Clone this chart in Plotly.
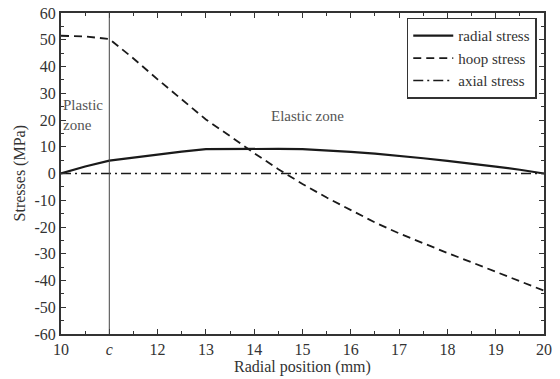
import plotly.graph_objects as go

# Data
r = [10, 10.5, 11, 11.5, 12, 12.5, 13, 13.5, 14, 14.5, 15, 15.5, 16, 16.5, 17, 17.5, 18, 18.5, 19, 19.5, 20]
radial = [0, 2.6, 4.8, 6.0, 7.1, 8.2, 9.1, 9.2, 9.2, 9.2, 9.1, 8.7, 8.1, 7.4, 6.6, 5.7, 4.7, 3.7, 2.6, 1.4, 0]
hoop = [51.5, 51.2, 50.3, 43.0, 35.2, 27.6, 20.2, 14.0, 7.6, 1.6, -3.9, -9.0, -13.8, -18.3, -22.4, -26.2, -29.7, -33.2, -36.8, -40.3, -43.8]
axial = [0] * len(r)
c = 11
xtick_vals = [10, 11, 12, 13, 14, 15, 16, 17, 18, 19, 20]
xtick_text = ["10", "<i>c</i>", "12", "13", "14", "15", "16", "17", "18", "19", "20"]
ytick_vals = [60, 50, 40, 30, 20, 10, 0, -10, -20, -30, -40, -50, -60]
ytick_text = ["60", "50", "40", "30", "20", "10", "0", "-10", "-20", "-30", "-40", "-50", "-60"]

FONT = "Liberation Serif, Times New Roman, serif"
INK = "#333333"

fig = go.Figure()
fig.add_trace(go.Scatter(x=r, y=radial, mode="lines", name="radial stress",
                         line=dict(color="#1a1a1a", width=2.2, dash="solid")))
fig.add_trace(go.Scatter(x=r, y=hoop, mode="lines", name="hoop stress",
                         line=dict(color="#1a1a1a", width=1.8, dash="8px,5px")))
fig.add_trace(go.Scatter(x=r, y=axial, mode="lines", name="axial stress",
                         line=dict(color="#1a1a1a", width=1.6, dash="10px,4px,2px,4px")))

fig.add_shape(type="line", xref="x", yref="paper", x0=c, x1=c, y0=0, y1=1,
              line=dict(color="#444444", width=1))

fig.add_annotation(x=10.0, y=22, xref="x", yref="y", text="Plastic<br>zone",
                   showarrow=False, xanchor="left", align="left",
                   font=dict(family=FONT, size=15, color="#555555"))
fig.add_annotation(x=15.1, y=21.5, xref="x", yref="y", text="Elastic zone",
                   showarrow=False, xanchor="center",
                   font=dict(family=FONT, size=15, color="#555555"))

# axis titles
fig.add_annotation(x=0.5, y=-0.103, xref="paper", yref="paper", text="Radial position (mm)",
                   showarrow=False, xanchor="center", yanchor="middle",
                   font=dict(family=FONT, size=16, color=INK))
fig.add_annotation(x=-0.085, y=0.5, xref="paper", yref="paper", text="Stresses (MPa)",
                   showarrow=False, xanchor="center", yanchor="middle", textangle=-90,
                   font=dict(family=FONT, size=16, color=INK))

axis_common = dict(showline=True, linecolor="#333333", linewidth=2, mirror="ticks",
                   ticks="inside", ticklen=5, tickwidth=1.2, tickcolor="#333333",
                   showgrid=False, zeroline=False, automargin=False,
                   tickfont=dict(family=FONT, size=16, color=INK))

fig.update_xaxes(range=[10, 20], tickmode="array", tickvals=xtick_vals, ticktext=xtick_text,
                 minor=dict(dtick=0.5, ticks="inside", ticklen=3, tickcolor="#333333"),
                 **axis_common)
fig.update_yaxes(range=[-60, 60], tickmode="array", tickvals=ytick_vals, ticktext=ytick_text,
                 minor=dict(dtick=5, ticks="inside", ticklen=3, tickcolor="#333333"),
                 **axis_common)

fig.update_layout(
    width=560, height=379,
    margin=dict(l=61, r=16, t=13, b=45),
    paper_bgcolor="white", plot_bgcolor="white",
    showlegend=True,
    legend=dict(x=0.985, y=0.985, xanchor="right", yanchor="top",
                bgcolor="white", bordercolor="#333333", borderwidth=1.5,
                font=dict(family=FONT, size=15, color=INK),
                tracegroupgap=0, itemwidth=40),
)

fig.write_html("out.html")
